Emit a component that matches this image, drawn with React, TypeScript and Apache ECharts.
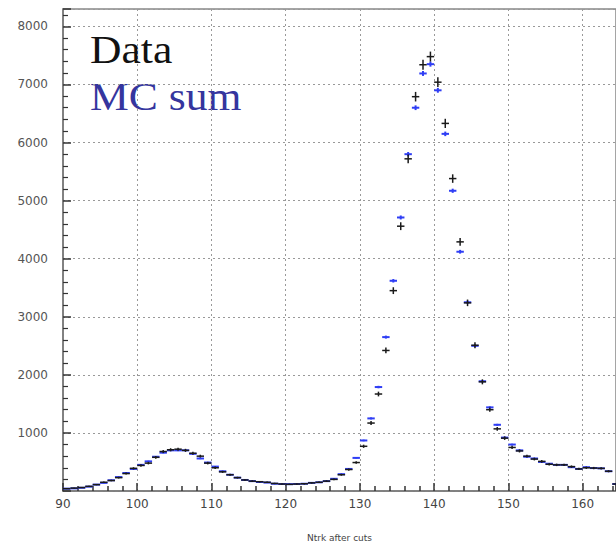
import React, { useEffect, useRef } from "react";
import * as echarts from "echarts";

const binCenters = [
  90.5, 91.5, 92.5, 93.5, 94.5, 95.5, 96.5, 97.5, 98.5, 99.5,
  100.5, 101.5, 102.5, 103.5, 104.5, 105.5, 106.5, 107.5, 108.5, 109.5,
  110.5, 111.5, 112.5, 113.5, 114.5, 115.5, 116.5, 117.5, 118.5, 119.5,
  120.5, 121.5, 122.5, 123.5, 124.5, 125.5, 126.5, 127.5, 128.5, 129.5,
  130.5, 131.5, 132.5, 133.5, 134.5, 135.5, 136.5, 137.5, 138.5, 139.5,
  140.5, 141.5, 142.5, 143.5, 144.5, 145.5, 146.5, 147.5, 148.5, 149.5,
  150.5, 151.5, 152.5, 153.5, 154.5, 155.5, 156.5, 157.5, 158.5, 159.5,
  160.5, 161.5, 162.5, 163.5, 164.5,
];

const dataValues = [
  40, 50, 60, 80, 110, 150, 180, 230, 300, 390,
  440, 480, 580, 680, 710, 720, 700, 650, 600, 480,
  400, 330, 280, 230, 190, 170, 160, 150, 130, 120,
  115, 120, 125, 140, 150, 170, 200, 280, 370, 490,
  770, 1170, 1670, 2420, 3450, 4560, 5720, 6790, 7340, 7480,
  7040, 6330, 5380, 4290, 3240, 2510, 1880, 1400, 1070, 910,
  750, 690, 600, 550, 510, 460, 450, 450, 420, 380,
  400, 395, 390, 340, 120,
];

const mcValues = [
  40, 45, 55, 75, 110, 140, 185, 240, 310, 380,
  450, 510, 590, 660, 700, 700, 700, 640, 560, 490,
  420, 340, 280, 230, 190, 170, 155, 145, 125, 120,
  118, 120, 125, 140, 150, 170, 210, 290, 380, 570,
  870, 1250, 1790, 2650, 3620, 4710, 5800, 6600, 7190, 7350,
  6900, 6150, 5170, 4120, 3250, 2500, 1890, 1440, 1140, 920,
  800, 700, 590, 560, 500, 470, 450, 450, 410, 380,
  410, 395, 390, 340, 120,
];

const xTickLabels = ["90", "100", "110", "120", "130", "140", "150", "160"];
const yTickLabels = ["1000", "2000", "3000", "4000", "5000", "6000", "7000", "8000"];

function makeRenderer(color: string, errScale: number, lw: number) {
  return (params: any, api: any) => {
    const x = api.value(0);
    const y = api.value(1);
    const err = Math.sqrt(y) * errScale;
    const pL = api.coord([x - 0.5, y]);
    const pR = api.coord([x + 0.5, y]);
    const pT = api.coord([x, y + err]);
    const pB = api.coord([x, y - err]);
    return {
      type: "group",
      children: [
        {
          type: "line",
          shape: { x1: pL[0], y1: pL[1], x2: pR[0], y2: pR[1] },
          style: { stroke: color, lineWidth: lw },
        },
        {
          type: "line",
          shape: { x1: pT[0], y1: pT[1], x2: pB[0], y2: pB[1] },
          style: { stroke: color, lineWidth: lw },
        },
      ],
    };
  };
}

export default function App() {
  const ref = useRef<HTMLDivElement>(null);
  useEffect(() => {
    if (!ref.current) return;
    const chart = echarts.init(ref.current, null, { renderer: "svg" });
    const dataPts = binCenters.map((x, i) => [x, dataValues[i]]);
    const mcPts = binCenters.map((x, i) => [x, mcValues[i]]);
    const splitStyle = { show: true, lineStyle: { color: "#999", type: [2, 3] as any, width: 1 } };
    chart.setOption({
      animation: false,
      backgroundColor: "#fff",
      grid: {
        left: 63,
        right: -1,
        top: 9,
        bottom: 49,
        show: true,
        borderColor: "#888",
        borderWidth: 1.5,
      },
      xAxis: {
        type: "value",
        min: 90,
        max: 164.5,
        interval: 10,
        name: "Ntrk after cuts",
        nameLocation: "middle",
        nameGap: 42,
        nameTextStyle: { fontSize: 9, color: "#444", fontFamily: "DejaVu Sans" },
        axisLine: { show: true, onZero: false, lineStyle: { color: "#777", width: 1.5 } },
        axisTick: { show: true, inside: true, length: 8, lineStyle: { color: "#333", width: 1.5 } },
        minorTick: { show: true, splitNumber: 5, length: 5, lineStyle: { color: "#333", width: 1.5 } },
        splitLine: splitStyle,
        axisLabel: {
          showMaxLabel: false,
          fontSize: 12,
          color: "#444",
          margin: 7,
          fontFamily: "DejaVu Sans",
          formatter: (v: number) => (xTickLabels.includes(String(v)) ? String(v) : ""),
        },
      },
      yAxis: {
        type: "value",
        min: 0,
        max: 8300,
        interval: 1000,
        axisLine: { show: true, onZero: false, lineStyle: { color: "#777", width: 1.5 } },
        axisTick: { show: true, inside: true, length: 8, lineStyle: { color: "#333", width: 1.5 } },
        minorTick: { show: true, splitNumber: 5, length: 5, lineStyle: { color: "#333", width: 1.2 } },
        splitLine: splitStyle,
        axisLabel: {
          showMinLabel: false,
          showMaxLabel: false,
          fontSize: 12,
          color: "#555",
          margin: 15,
          fontFamily: "DejaVu Sans",
          formatter: (v: number) => (yTickLabels.includes(String(v)) ? String(v) : ""),
        },
      },
      graphic: [
        {
          type: "text",
          left: 90,
          top: 30,
          scaleX: 1.09,
          style: {
            text: "Data",
            fill: "#111",
            font: '40px "Liberation Serif"',
          },
        },
        {
          type: "text",
          left: 90,
          top: 77,
          scaleX: 1.09,
          style: {
            text: "MC sum",
            fill: "#35359e",
            font: '40px "Liberation Serif"',
          },
        },
      ],
      series: [
        {
          name: "MC sum",
          type: "custom",
          clip: true,
          renderItem: makeRenderer("#2f3ef5", 0.5, 2),
          encode: { x: 0, y: 1 },
          data: mcPts,
          z: 2,
        },
        {
          name: "Data",
          type: "custom",
          clip: true,
          renderItem: makeRenderer("#1a1a1a", 1, 1.5),
          encode: { x: 0, y: 1 },
          data: dataPts,
          z: 3,
        },
      ],
    });
    return () => chart.dispose();
  }, []);
  return (
    <div
      ref={ref}
      style={{ position: "absolute", left: 0, top: 0, width: 616, height: 547 }}
    />
  );
}
